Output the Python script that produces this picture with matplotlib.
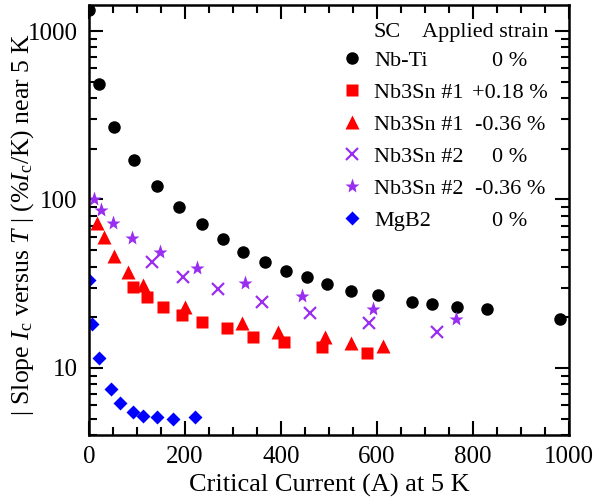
import matplotlib
matplotlib.use("Agg")
import matplotlib.pyplot as plt
from matplotlib.ticker import MultipleLocator, LogLocator, NullFormatter

plt.rcParams['font.family'] = 'serif'
plt.rcParams['font.serif'] = ['Liberation Serif', 'Times New Roman', 'DejaVu Serif']
plt.rcParams['mathtext.fontset'] = 'custom'
plt.rcParams['mathtext.rm'] = 'serif'
plt.rcParams['mathtext.it'] = 'serif:italic'

# Nb-Ti, 0 %
nbti_ic = [0, 21, 52, 94, 142, 188, 235, 280, 322, 367, 410, 454, 496, 546, 602, 673, 715, 767, 829, 981]
nbti_slope = [1334, 484, 269, 171, 120, 90.3, 71.6, 58.3, 48.7, 42.6, 37.6, 34.7, 31.5, 28.6, 27.1, 24.7, 24.0, 23.0, 22.4, 19.5]

# Nb3Sn #1, +0.18 %
sn1p_ic = [92, 121, 154, 194, 235, 288, 342, 406, 485, 579]
sn1p_slope = [30.3, 26.4, 23.0, 20.6, 18.7, 17.3, 15.3, 14.3, 13.3, 12.3]

# Nb3Sn #1, -0.36 %
sn1m_ic = [17, 31, 52, 81, 112, 200, 319, 394, 492, 546, 612]
sn1m_slope = [72.6, 59.9, 46.3, 37.2, 31.1, 23.0, 18.5, 16.4, 15.3, 14.1, 13.5]

# Nb3Sn #2, 0 %
sn2_ic = [131, 196, 269, 360, 460, 583, 725]
sn2_slope = [42.6, 34.7, 29.4, 24.7, 21.2, 18.5, 16.4]

# Nb3Sn #2, -0.36 %
sn2m_ic = [10, 25, 50, 90, 148, 225, 325, 444, 592, 765]
sn2m_slope = [101, 86.7, 72.6, 59.1, 48.7, 39.2, 31.9, 26.7, 22.4, 19.5]

# MgB2, 0 %
mgb2_ic = [0, 6, 21, 46, 65, 92, 112, 142, 175, 221]
mgb2_slope = [33.3, 18.2, 11.5, 7.5, 6.2, 5.5, 5.2, 5.1, 4.98, 5.1]

names = ['Nb-Ti', 'Nb3Sn #1', 'Nb3Sn #1', 'Nb3Sn #2', 'Nb3Sn #2', 'MgB2']
strains = ['0 %', '+0.18 %', '-0.36 %', '0 %', '-0.36 %', '0 %']

purple = '#9a2ef0'

fig = plt.figure(figsize=(5.96, 4.97), dpi=100)
ax = fig.add_axes([0.149, 0.125, 0.806, 0.865])

ax.plot(nbti_ic, nbti_slope, 'o', color='black', ms=9, mec='none', label=names[0])
ax.plot(sn1p_ic, sn1p_slope, 's', color='red', ms=8.5, mec='none', label=names[1])
ax.plot(sn1m_ic, sn1m_slope, '^', color='red', ms=10.5, mec='none', label=names[2])
ax.plot(sn2_ic, sn2_slope, 'x', color=purple, ms=9, mew=1.6, label=names[3])
ax.plot(sn2m_ic, sn2m_slope, '*', color=purple, ms=11, mec='none', label=names[4])
ax.plot(mgb2_ic, mgb2_slope, 'D', color='blue', ms=6.8, mec='none', label=names[5])

ax.set_yscale('log')
ax.set_xlim(0, 1000)
ax.set_ylim(4.0, 1430)
ax.set_yticks([10, 100, 1000])
ax.set_yticklabels(['10', '100', '1000'])
ax.yaxis.set_minor_locator(LogLocator(base=10, subs=range(2, 10)))
ax.yaxis.set_minor_formatter(NullFormatter())
ax.xaxis.set_major_locator(MultipleLocator(200))
ax.xaxis.set_minor_locator(MultipleLocator(50))

ax.tick_params(which='both', direction='in', top=True, right=True, labelsize=18, width=1.5)
ax.tick_params(which='major', length=10, pad=8)
ax.tick_params(which='minor', length=6)
for sp in ax.spines.values():
    sp.set_linewidth(1.8)

ax.set_xlabel('Critical Current (A) at 5 K', fontsize=19, labelpad=4)
ax.set_ylabel(r'| Slope $I_\mathrm{c}$ versus $T$ | (%$I_\mathrm{c}$/K) near 5 K', fontsize=18.5)
ax.yaxis.set_label_coords(-0.11, 0.49)

leg = ax.legend(loc='upper left', bbox_to_anchor=(0.525, 0.895), frameon=False, fontsize=16,
                handlelength=1.0, handletextpad=0.5, borderpad=0, borderaxespad=0,
                labelspacing=0.52, numpoints=1)

ax.text(0.593, 0.936, 'SC', transform=ax.transAxes, fontsize=16, ha='left', va='center')
ax.text(0.956, 0.936, 'Applied strain', transform=ax.transAxes, fontsize=16, ha='right', va='center')

# strain column aligned with legend rows
fig.canvas.draw()
inv = ax.transAxes.inverted()
for txt, s in zip(leg.get_texts(), strains):
    bb = txt.get_window_extent()
    yc = inv.transform((0, (bb.y0 + bb.y1) / 2))[1]
    ax.text(0.877, yc, s, transform=ax.transAxes, fontsize=16, ha='center', va='center')

fig.savefig('out.png', dpi=100)
